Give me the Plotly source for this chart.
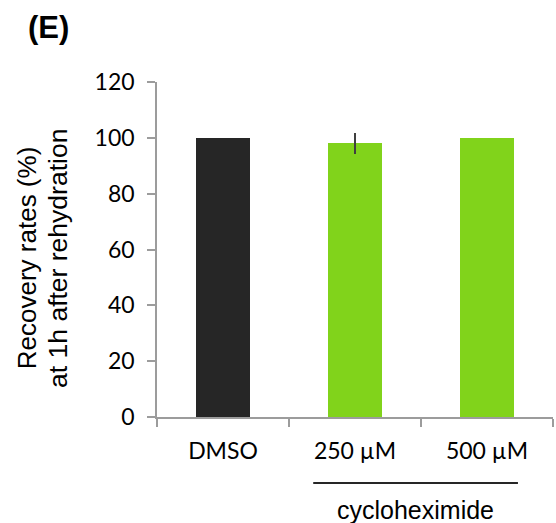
import plotly.graph_objects as go

categories = ["DMSO", "250 µM", "500 µM"]
recovery = [100, 98.1, 100]
errors = [0, 3.8, 0]
bar_colors = ["#262626", "#81d31b", "#81d31b"]
y_ticks = [0, 20, 40, 60, 80, 100, 120]
panel_label = "(E)"
y_title_lines = ["Recovery rates (%)", "at 1h after rehydration"]
group_label = "cycloheximide"

AXIS_COLOR = "#9c9c9c"

fig = go.Figure()
fig.add_trace(go.Bar(
    x=categories,
    y=recovery,
    width=0.405,
    marker=dict(color=bar_colors, line=dict(width=0)),
    error_y=dict(type="data", array=errors, visible=True, width=0,
                 thickness=2, color="#404040"),
    showlegend=False,
))

fig.update_layout(
    width=556, height=523,
    margin=dict(l=157.3, r=3.3, t=82, b=105.7),
    paper_bgcolor="white", plot_bgcolor="white",
    bargap=0,
    xaxis=dict(
        type="category", tickson="boundaries", ticks="outside", ticklen=8,
        tickcolor=AXIS_COLOR, tickwidth=1.5,
        showline=True, linecolor=AXIS_COLOR, linewidth=1.5,
        showgrid=False, zeroline=False,
        tickfont=dict(family="Lato", size=23, color="black"),
        ticklabelstandoff=13,
    ),
    yaxis=dict(
        range=[0, 120], tickvals=y_ticks, ticks="outside", ticklen=8,
        tickcolor=AXIS_COLOR, tickwidth=1.5,
        showline=True, linecolor=AXIS_COLOR, linewidth=1.5,
        showgrid=False, zeroline=False,
        tickfont=dict(family="Lato", size=23, color="black"),
        ticklabelstandoff=8,
    ),
)

arial = "Liberation Sans, Arial, sans-serif"
annotations = [
    dict(text="<b>" + panel_label + "</b>", xref="paper", yref="paper", x=0, y=1,
         xshift=48.5 - 157.3, yshift=82 - 27, showarrow=False,
         font=dict(family=arial, size=31, color="black"),
         xanchor="center", yanchor="middle"),
    dict(text=y_title_lines[0], xref="paper", yref="paper", x=0, y=0.5,
         xshift=27 - 157.3, yshift=-8, showarrow=False, textangle=-90,
         font=dict(family=arial, size=26, color="black"),
         xanchor="center", yanchor="middle"),
    dict(text=y_title_lines[1], xref="paper", yref="paper", x=0, y=0.5,
         xshift=57.7 - 157.3, yshift=-9, showarrow=False, textangle=-90,
         font=dict(family=arial, size=26.5, color="black"),
         xanchor="center", yanchor="middle"),
    dict(text=group_label, xref="paper", yref="paper", x=0.653, y=0,
         yshift=-(510 - 417.3), showarrow=False,
         font=dict(family=arial, size=25, color="black"),
         xanchor="center", yanchor="middle"),
]
fig.update_layout(annotations=annotations)

fig.add_shape(type="line", xref="paper", yref="paper",
              x0=0.3945, x1=0.9115, y0=-0.1968, y1=-0.1968,
              line=dict(color="#262626", width=2))

fig.write_html("out.html")
